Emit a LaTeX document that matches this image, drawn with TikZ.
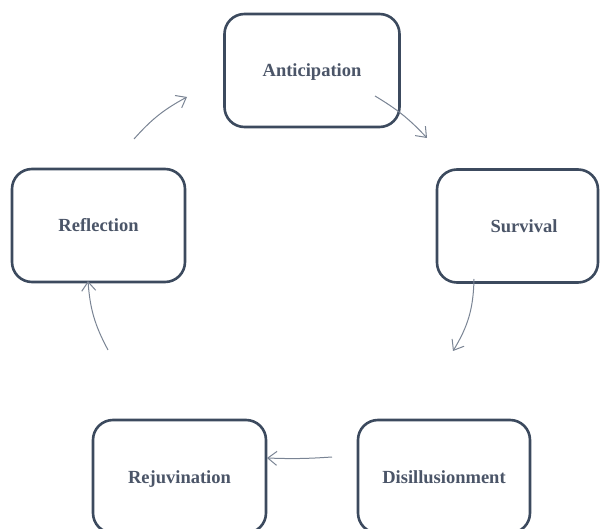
\documentclass[tikz,border=0pt]{standalone}
\usepackage{fontspec}
\setmainfont{Liberation Serif}
\usetikzlibrary{arrows.meta}
\definecolor{boxline}{HTML}{3C4A5E}
\definecolor{boxtext}{HTML}{4B5568}
\definecolor{arrowc}{HTML}{7A8494}
\tikzset{
  stagebox/.style={draw=boxline, line width=2.6pt, rounded corners=20pt, fill=white,
    minimum width=#1, minimum height=113pt, inner sep=0pt, text height=16pt, text depth=3pt,
    font=\fontsize{18.5}{20}\selectfont\bfseries, text=boxtext},
  flow/.style={draw=arrowc, line width=1pt, -{Straight Barb[length=9pt,width=14pt,line width=1pt]}}
}
\begin{document}
\begin{tikzpicture}[x=1pt,y=-1pt]
\useasboundingbox (0,0) rectangle (603,529);
\clip (0,0) rectangle (603,529);
\node[stagebox=175pt] (ant) at (312,70.5) {Anticipation};
\node[stagebox=161pt] (sur) at (517.5,226) {\hspace*{13pt}Survival};
\node[stagebox=172pt] (dis) at (444,476.5) {Disillusionment};
\node[stagebox=173pt] (rej) at (179.5,476.5) {Rejuvination};
\node[stagebox=173pt] (ref) at (98.5,225.5) {Reflection};
\coordinate (a1s) at (375,96);
\coordinate (a1e) at (427,138);
\coordinate (a2s) at (474,279);
\coordinate (a2e) at (453,351);
\coordinate (a3s) at (332,457);
\coordinate (a3e) at (267,458);
\coordinate (a4s) at (108,350);
\coordinate (a4e) at (88,281);
\coordinate (a5s) at (134,139);
\coordinate (a5e) at (187,97);
\draw[flow] (a1s) to[bend left=8] (a1e);
\draw[flow] (a2s) to[bend left=15] (a2e);
\draw[flow] (a3s) to[bend left=3] (a3e);
\draw[flow] (a4s) to[bend left=12] (a4e);
\draw[flow] (a5s) to[bend left=10] (a5e);
\end{tikzpicture}
\end{document}
